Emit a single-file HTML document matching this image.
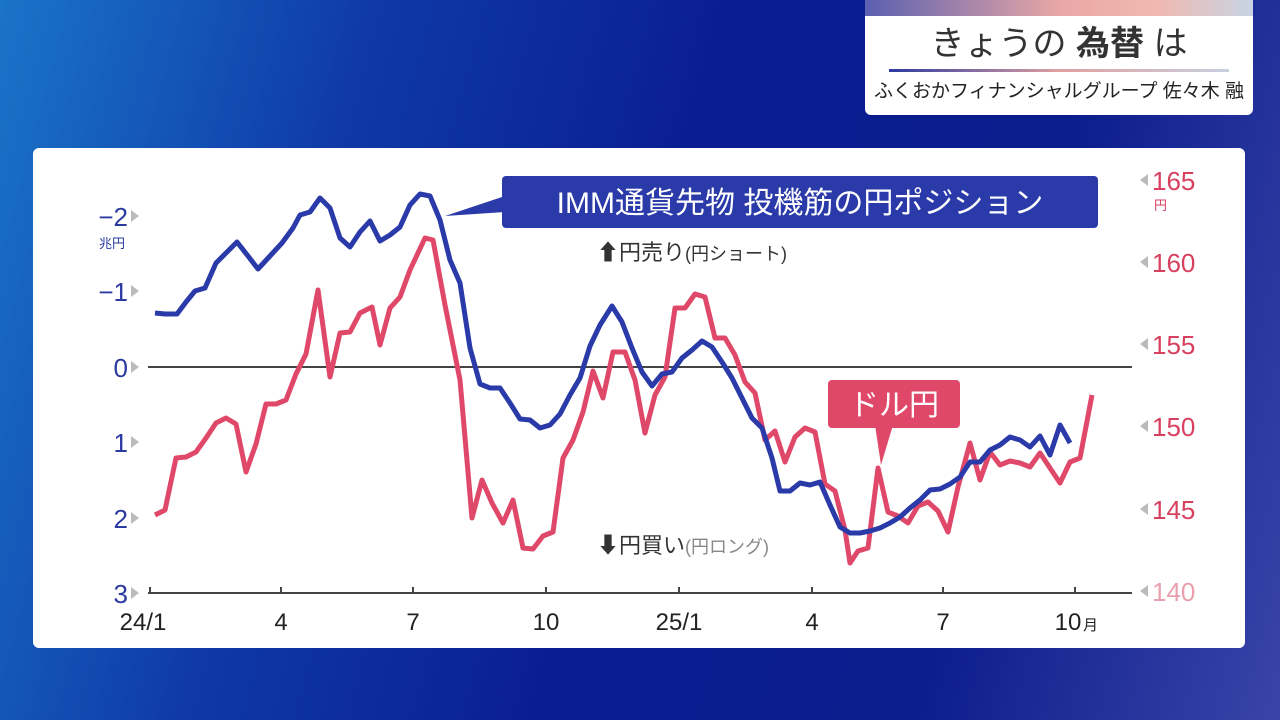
<!DOCTYPE html>
<html><head><meta charset="utf-8"><style>
body{margin:0;width:1280px;height:720px;overflow:hidden;background:linear-gradient(105deg,#1a74c8 0%,#0f3aa8 25%,#0a1d92 50%,#0b1d8c 75%,#3a44a8 100%);font-family:"Liberation Sans","Noto Sans CJK JP",sans-serif;position:relative}
.hdr{position:absolute;left:865px;top:0;width:388px;height:115px;background:#fff;border-radius:0 0 6px 6px;overflow:hidden}
.strip{height:16px;background:linear-gradient(90deg,#5a5fb0,#e9a7a5 50%,#f0b8b0 75%,#c8d4e4)}
.panel{position:absolute;left:33px;top:148px;width:1212px;height:500px;background:#fff;border-radius:6px}
svg{position:absolute;left:0;top:0}
</style></head><body>
<div class="hdr"><div class="strip"></div>
<div style="text-align:center;font-size:34px;color:#333;margin-top:6px;line-height:44px">きょうの <b>為替</b> は</div>
<div style="margin:3px 24px 0;height:3px;background:linear-gradient(90deg,#2a3aa0,#e0a0a0 50%,#c8d0e0)"></div>
<div style="text-align:center;font-size:19px;color:#222;margin-top:4px">ふくおかフィナンシャルグループ 佐々木 融</div>
</div>
<div class="panel"></div>
<svg width="1280" height="720" font-family="Liberation Sans, Noto Sans CJK JP, sans-serif">
<line x1="148" y1="367" x2="1132" y2="367" stroke="#444" stroke-width="2"/>
<line x1="148" y1="593" x2="1132" y2="593" stroke="#444" stroke-width="2"/>
<g stroke="#444" stroke-width="2"><line x1="150" y1="587" x2="150" y2="593"/><line x1="281" y1="587" x2="281" y2="593"/><line x1="413" y1="587" x2="413" y2="593"/><line x1="546" y1="587" x2="546" y2="593"/><line x1="679" y1="587" x2="679" y2="593"/><line x1="812" y1="587" x2="812" y2="593"/><line x1="943" y1="587" x2="943" y2="593"/><line x1="1075" y1="587" x2="1075" y2="593"/></g>
<g font-size="24" fill="#222" text-anchor="middle"><text x="143" y="630">24/1</text><text x="281" y="630">4</text><text x="413" y="630">7</text><text x="546" y="630">10</text><text x="679" y="630">25/1</text><text x="812" y="630">4</text><text x="943" y="630">7</text><text x="1068" y="630">10</text></g>
<text x="1083" y="630" font-size="15" fill="#222">月</text>
<g font-size="26" fill="#2a3aa0" text-anchor="end"><text x="128" y="226">−2</text><text x="128" y="301">−1</text><text x="128" y="377">0</text><text x="128" y="452">1</text><text x="128" y="528">2</text><text x="128" y="603">3</text></g>
<text x="112" y="248" font-size="13" fill="#2a3aa0" text-anchor="middle">兆円</text>
<g fill="#bbb"><path d="M131 210l8 6-8 6z"/><path d="M131 285l8 6-8 6z"/><path d="M131 361l8 6-8 6z"/><path d="M131 436l8 6-8 6z"/><path d="M131 512l8 6-8 6z"/><path d="M131 587l8 6-8 6z"/>
<path d="M1148 174l-8 6 8 6z"/><path d="M1148 256l-8 6 8 6z"/><path d="M1148 338l-8 6 8 6z"/><path d="M1148 420l-8 6 8 6z"/><path d="M1148 503l-8 6 8 6z"/><path d="M1148 585l-8 6 8 6z"/></g>
<g font-size="26" fill="#d84060"><text x="1152" y="190">165</text><text x="1152" y="272">160</text><text x="1152" y="354">155</text><text x="1152" y="436">150</text><text x="1152" y="519">145</text><text x="1152" y="601" fill="#e8a0b0">140</text></g>
<text x="1154" y="210" font-size="13" fill="#d84060">円</text>
<polyline fill="none" stroke="#e0486a" stroke-width="5" stroke-linejoin="round" points="155,515 165,510 176,458 186,457 196,452 206,438 216,423 226,418 236,424 246,472 256,444 266,404 276,404 286,400 296,374 306,354 318,290 330,377 340,333 350,332 360,313 372,307 380,345 390,308 400,297 410,270 425,238 433,240 445,305 460,380 472,518 482,480 492,503 503,523 513,500 523,548 533,549 543,536 553,532 563,458 573,440 583,412 593,371 603,398 613,352 625,352 635,380 645,433 655,395 665,377 675,308 685,308 695,294 705,297 715,338 725,338 735,355 745,382 755,393 765,440 775,431 785,462 795,437 805,428 815,432 825,484 835,491 845,530 850,563 858,551 868,548 878,468 888,512 898,516 908,523 918,506 928,502 938,511 948,532 958,487 970,443 980,480 990,452 1000,465 1010,461 1020,463 1030,467 1040,453 1050,468 1060,483 1070,462 1080,458 1092,395"/>
<polyline fill="none" stroke="#2a3aa8" stroke-width="5" stroke-linejoin="round" points="155,313 165,314 177,314 186,302 195,291 205,288 216,263 226,253 237,242 248,256 258,269 270,256 282,243 293,228 300,215 310,212 320,198 330,208 340,238 350,247 360,232 370,221 380,241 390,235 400,227 410,205 420,194 430,196 440,220 450,260 460,283 470,348 480,384 490,388 500,388 510,403 520,419 530,420 540,428 550,425 560,414 570,395 580,378 590,346 600,325 612,306 622,322 632,348 642,372 652,386 662,374 672,372 682,358 692,350 702,341 712,347 722,362 732,378 742,398 752,418 762,428 772,458 780,491 790,491 800,483 810,485 820,482 830,505 840,527 850,533 860,533 870,531 880,528 890,523 900,517 910,508 920,500 930,490 940,489 950,484 960,477 970,462 980,462 990,450 1000,445 1010,437 1020,440 1030,447 1040,436 1050,455 1060,425 1070,443"/>
<path d="M445 216 L505 196 L505 212 Z" fill="#2a3aa8"/>
<rect x="502" y="176" width="596" height="52" rx="4" fill="#2a3aa8"/>
<text x="800" y="213" font-size="30" fill="#fff" text-anchor="middle">IMM通貨先物 投機筋の円ポジション</text>
<path d="M875 425 L881 465 L893 425 Z" fill="#e0486a"/>
<rect x="828" y="380" width="132" height="48" rx="4" fill="#e0486a"/>
<text x="894" y="415" font-size="30" fill="#fff" text-anchor="middle">ドル円</text>
<text x="597" y="260" font-size="22" fill="#333">⬆円売り<tspan font-size="18">(円ショート)</tspan></text>
<text x="597" y="553" font-size="22" fill="#333">⬇円買い<tspan font-size="18" fill="#888">(円ロング)</tspan></text>
</svg>
</body></html>
